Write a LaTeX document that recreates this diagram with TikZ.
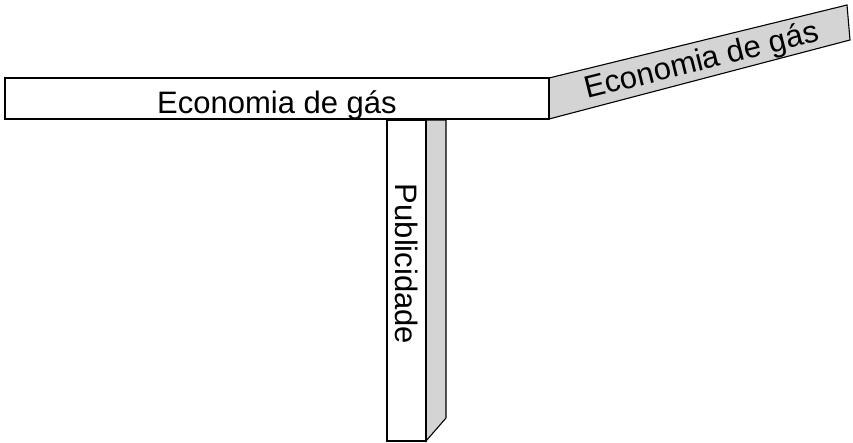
\documentclass[tikz,border=0pt]{standalone}
\usepackage{fontspec}
\setmainfont{Liberation Sans}
\definecolor{sidegray}{RGB}{212,212,213}
\tikzset{
  face/.style={draw=black, line width=1.1pt, line join=miter},
  facetext/.style={font=\fontsize{31}{31}\selectfont, inner sep=0pt},
}

\begin{document}
\begin{tikzpicture}[x=1pt, y=-1pt]
		%%%%% START %%%%%
		\useasboundingbox (0, 0) rectangle (853, 442);
		
		% vertical bar
		\draw[face, fill=sidegray] (426, 120) -- (446, 120) -- (446, 418) -- (426, 441) -- cycle;
		\draw[face, fill=white] (387, 120) rectangle (426, 441);
		\node[facetext, rotate=-90] (publicidade) at (406.5, 264) {Publicidade};
		
		% slanted panel
		\draw[face, fill=sidegray] (549, 78) -- (847, 5) -- (850, 40) -- (549, 119) -- cycle;
		\node[facetext, rotate=14] (gasside) at (702, 62) {Economia de gás};
		
		% horizontal bar
		\draw[face, fill=white] (5, 78) rectangle (549, 119);
		\node[facetext, anchor=base] (gasfront) at (277, 113) {Economia de gás};
		%%%%% END %%%%%
	\end{tikzpicture}
\end{document}
